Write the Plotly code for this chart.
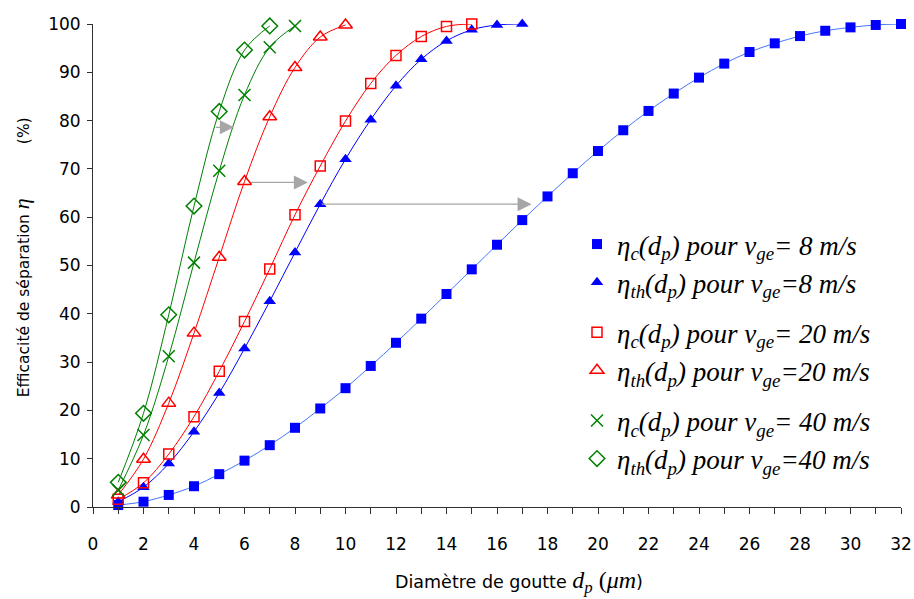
import plotly.graph_objects as go

# ---- data ----
x8_c = list(range(1, 33))
y8_c = [0.4, 1.1, 2.5, 4.3, 6.8, 9.6, 12.8, 16.4, 20.4, 24.6, 29.2, 34.0, 39.0, 44.1,
        49.2, 54.3, 59.4, 64.3, 69.1, 73.7, 78.0, 82.0, 85.6, 88.9, 91.8, 94.2, 96.0,
        97.5, 98.6, 99.3, 99.8, 100.0]
x8_th = list(range(1, 18))
y8_th = [1.1, 4.1, 9.0, 15.6, 23.6, 32.8, 42.6, 52.7, 62.7, 72.0, 80.2, 87.2, 92.7,
         96.5, 98.8, 99.8, 100.0]
x20_c = list(range(1, 16))
y20_c = [1.6, 5.0, 10.95, 18.7, 28.1, 38.4, 49.3, 60.5, 70.6, 79.9, 87.7, 93.5, 97.4,
         99.5, 100.0]
x20_th = list(range(1, 11))
y20_th = [2.5, 9.9, 21.5, 36.0, 51.7, 67.4, 80.8, 91.0, 97.3, 99.8]
x40_c = list(range(1, 9))
y40_c = [3.5, 14.9, 31.2, 50.6, 69.6, 85.3, 95.2, 99.6]
x40_th = list(range(1, 8))
y40_th = [5.1, 19.4, 39.8, 62.3, 81.9, 94.6, 99.6]

# arrows (start x, end x, y)
arrow_x0 = [4.81, 6.2, 9.0]
arrow_x1 = [5.58, 8.51, 17.37]
arrow_y = [78.6, 67.2, 62.7]

x_ticks = list(range(0, 33, 2))
y_ticks = list(range(0, 101, 10))

names = [
    "<i>η<sub>c</sub>(d<sub>p</sub>) pour v<sub>ge</sub>= 8 m/s</i>",
    "<i>η<sub>th</sub>(d<sub>p</sub>) pour v<sub>ge</sub>=8 m/s</i>",
    "<i>η<sub>c</sub>(d<sub>p</sub>) pour v<sub>ge</sub>= 20 m/s</i>",
    "<i>η<sub>th</sub>(d<sub>p</sub>) pour v<sub>ge</sub>=20 m/s</i>",
    "<i>η<sub>c</sub>(d<sub>p</sub>) pour v<sub>ge</sub>= 40 m/s</i>",
    "<i>η<sub>th</sub>(d<sub>p</sub>) pour v<sub>ge</sub>=40 m/s</i>",
]

BLUE = "#0000ff"
RED = "#ff0000"
GREEN = "#008000"

series = [
    (x8_c, y8_c, "#4477ff", dict(symbol="square", size=10, color=BLUE), "g8"),
    (x8_th, y8_th, BLUE, dict(symbol="triangle-up", size=11, color=BLUE), "g8"),
    (x20_c, y20_c, RED, dict(symbol="square-open", size=10, color=RED, line=dict(width=1.5, color=RED)), "g20"),
    (x20_th, y20_th, RED, dict(symbol="triangle-up-open", size=12, color=RED, line=dict(width=1.5, color=RED)), "g20"),
    (x40_c, y40_c, GREEN, dict(symbol="x-thin-open", size=12, color=GREEN, line=dict(width=1.5, color=GREEN)), "g40"),
    (x40_th, y40_th, GREEN, dict(symbol="diamond-open", size=12, color=GREEN, line=dict(width=1.5, color=GREEN)), "g40"),
]

fig = go.Figure()
for (xs, ys, lc, mk, grp) in series:
    fig.add_trace(go.Scatter(x=xs, y=ys, mode="lines", line=dict(color=lc, width=1, shape="spline"),
                             showlegend=False, hoverinfo="skip", cliponaxis=False))
for (xs, ys, lc, mk, grp), nm in zip(series, names):
    fig.add_trace(go.Scatter(x=xs, y=ys, mode="markers", marker=mk, name=nm,
                             legendgroup=grp, cliponaxis=False))

for x0, x1, y in zip(arrow_x0, arrow_x1, arrow_y):
    fig.add_annotation(x=x1, y=y, ax=x0, ay=y, xref="x", yref="y", axref="x", ayref="y",
                       text="", showarrow=True, arrowhead=2, arrowsize=2.0, arrowwidth=1.4,
                       arrowcolor="#a6a6a6")

# plot area spans page x 93..901, y 24..507 (body margin removed below)
PX0, PW, PY0, PH = 93, 808, 507, 483

fig.add_annotation(xref="paper", yref="paper", x=(519 - PX0) / PW, y=(PY0 - 582) / PH,
                   text="Diamètre de goutte <span style='font-family:Liberation Serif;font-size:24px'><i>d<sub>p</sub></i> (<i>μm</i></span>)",
                   showarrow=False, font=dict(family="DejaVu Sans", size=17.5, color="black"),
                   xanchor="center", yanchor="middle")
fig.add_annotation(xref="paper", yref="paper", x=(21.7 - PX0) / PW, y=(PY0 - 257.5) / PH,
                   text="Efficacité de séparation <span style='font-family:Liberation Serif;font-size:22px'><i>η</i></span>"
                        + "&nbsp;" * 11 + "(%)",
                   showarrow=False, textangle=-90,
                   font=dict(family="DejaVu Sans", size=15.5, color="black"),
                   xanchor="center", yanchor="middle")

axis_font = dict(family="DejaVu Sans", size=17, color="black")
fig.update_layout(
    width=914, height=599,
    margin=dict(l=93, r=13, t=24, b=92),
    paper_bgcolor="white", plot_bgcolor="white",
    showlegend=True,
    legend=dict(x=(577 - PX0) / PW, y=(PY0 - 220) / PH, xanchor="left", yanchor="top",
                bgcolor="rgba(0,0,0,0)", tracegroupgap=12,
                font=dict(family="Liberation Serif", size=27, color="black")),
    xaxis=dict(range=[0, 32], tickvals=x_ticks, ticktext=[str(v) for v in x_ticks],
               automargin=False,
               showgrid=False, zeroline=False, showline=True, linecolor="#303030", linewidth=1,
               ticks="outside", ticklen=6, tickcolor="#303030", tickfont=axis_font,
               ticklabelstandoff=16,
               minor=dict(dtick=1, ticks="outside", ticklen=6, tickcolor="#303030", showgrid=False)),
    yaxis=dict(range=[0, 100], tickvals=y_ticks, ticktext=[str(v) for v in y_ticks],
               automargin=False,
               showgrid=False, zeroline=False, showline=True, linecolor="#303030", linewidth=1,
               ticks="outside", ticklen=5, tickcolor="#303030", tickfont=axis_font,
               ticklabelstandoff=3),
)

fig.write_html("out.html", config={"displayModeBar": False},
               post_script="document.body.style.margin='0px';document.body.style.overflow='hidden';")
